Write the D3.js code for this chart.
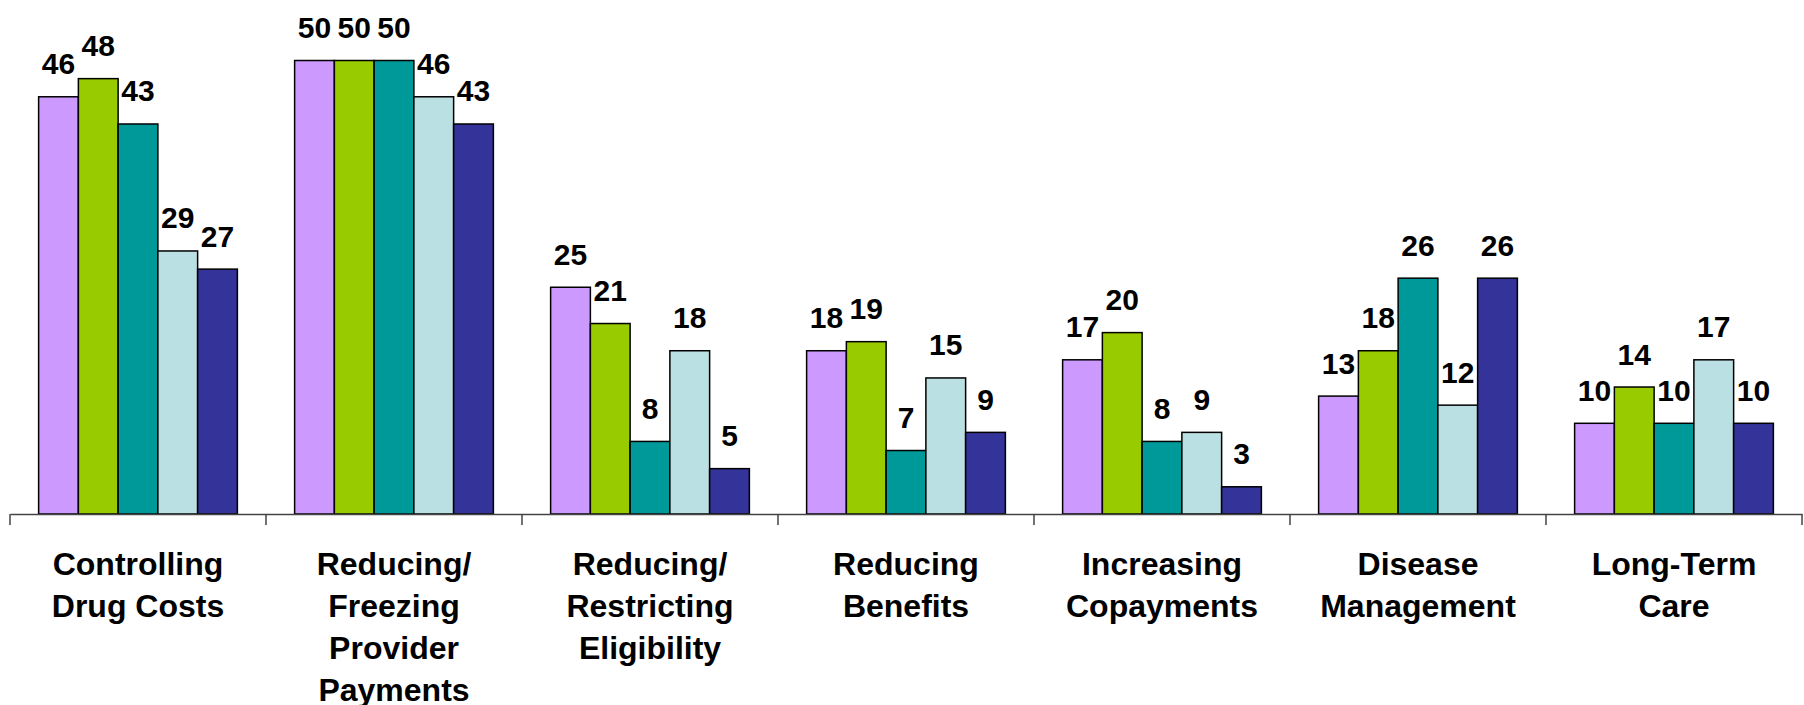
<!DOCTYPE html>
<html>
<head>
<meta charset="utf-8">
<script src="https://cdn.jsdelivr.net/npm/d3@7"></script>
<style>
  body { margin: 0; background: #fff; }
  text { font-family: "Liberation Sans", Arial, sans-serif; font-weight: bold; fill: #000; }
</style>
</head>
<body>
<div class="canvas"></div>
<script>
const categories = [
    'Controlling|Drug Costs',
    'Reducing/|Freezing|Provider|Payments',
    'Reducing/|Restricting|Eligibility',
    'Reducing|Benefits',
    'Increasing|Copayments',
    'Disease|Management',
    'Long-Term|Care'
];

const seriesKeys = ['s1', 's2', 's3', 's4', 's5'];
const seriesColors = ['#cc99ff', '#99cc00', '#009999', '#bbe0e3', '#333399'];

const s1 = [46, 50, 25, 18, 17, 13, 10];
const s2 = [48, 50, 21, 19, 20, 18, 14];
const s3 = [43, 50, 8, 7, 8, 26, 10];
const s4 = [29, 46, 18, 15, 9, 12, 17];
const s5 = [27, 43, 5, 9, 3, 26, 10];

const seriesValues = [s1, s2, s3, s4, s5];

const dims = {width: 1804, height: 705};

const svg = d3.select('.canvas')
    .append('svg')
    .attr('width', dims.width)
    .attr('height', dims.height);

const x0 = d3.scaleBand()
    .domain(categories)
    .range([10, 1802]);

const x1 = d3.scaleBand()
    .domain(seriesKeys)
    .range([0, x0.bandwidth()])
    .paddingOuter(0.72);

const y = d3.scaleLinear()
    .domain([0, 50])
    .range([514, 60.5]);

const color = d3.scaleOrdinal()
    .domain(seriesKeys)
    .range(seriesColors);

const data = categories.map((cat, i) => ({
    cat,
    values: seriesKeys.map((key, j) => ({key, value: seriesValues[j][i]}))
}));

const groups = svg.selectAll('.group')
    .data(data)
    .enter()
    .append('g')
    .attr('class', 'group')
    .attr('transform', d => `translate(${x0(d.cat)}, 0)`);

groups.selectAll('rect')
    .data(d => d.values)
    .enter()
    .append('rect')
    .attr('x', d => x1(d.key))
    .attr('y', d => y(d.value))
    .attr('width', x1.bandwidth())
    .attr('height', d => y(0) - y(d.value))
    .attr('fill', d => color(d.key))
    .attr('stroke', '#000')
    .attr('stroke-width', 1.5);

groups.selectAll('.val')
    .data(d => d.values)
    .enter()
    .append('text')
    .attr('class', 'val')
    .attr('x', d => x1(d.key) + x1.bandwidth() / 2)
    .attr('y', d => y(d.value) - 22.5)
    .attr('text-anchor', 'middle')
    .style('font-size', '30px')
    .text(d => d.value);

// category axis
const xAxis = d3.axisBottom(x0)
    .tickValues([])
    .tickSizeOuter(0);

const axisG = svg.append('g')
    .attr('transform', `translate(0, ${y(0)})`)
    .call(xAxis);

axisG.select('.domain')
    .attr('stroke', '#444')
    .attr('stroke-width', 1.5);

// tick marks on the band boundaries
const bounds = categories.map(c => x0(c)).concat([x0.range()[1]]);
axisG.selectAll('.bound')
    .data(bounds)
    .enter()
    .append('line')
    .attr('class', 'bound')
    .attr('x1', d => d)
    .attr('x2', d => d)
    .attr('y1', 0)
    .attr('y2', 11)
    .attr('stroke', '#444')
    .attr('stroke-width', 1.5);

const labels = svg.selectAll('.cat')
    .data(categories)
    .enter()
    .append('text')
    .attr('class', 'cat')
    .attr('text-anchor', 'middle')
    .style('font-size', '32px')
    .attr('transform', d => `translate(${x0(d) + x0.bandwidth() / 2}, 575)`);

labels.selectAll('tspan')
    .data(d => d.split('|'))
    .enter()
    .append('tspan')
    .attr('x', 0)
    .attr('y', (d, i) => i * 42)
    .text(d => d);
</script>
</body>
</html>
